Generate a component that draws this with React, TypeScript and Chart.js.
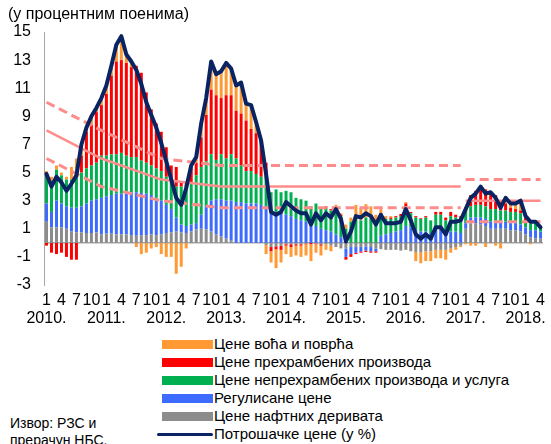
import React, { useEffect, useRef } from "react";
import { Chart, registerables } from "chart.js";

Chart.register(...registerables);

const FONT = "'Liberation Sans', Arial, Helvetica, sans-serif";

const years = [2010, 2011, 2012, 2013, 2014, 2015, 2016, 2017, 2018];
const labels: string[] = [];
for (const yr of years) {
  for (let m = 1; m <= 12; m++) {
    if (yr === 2018 && m > 4) break;
    labels.push(`${yr}-${m}`);
  }
}

// Потрошачке цене (у %)
const cpi = [
  4.9, 4.0, 4.7, 4.3, 3.7, 4.2, 4.8, 7.0, 8.2, 9.0, 9.6, 10.3,
  11.2, 12.6, 14.1, 14.7, 13.4, 12.9, 12.3, 11.3, 10.0, 9.1, 8.2, 7.1,
  5.8, 4.5, 3.2, 2.7, 3.9, 5.5, 6.1, 8.5, 10.3, 12.9, 12.0, 12.2,
  12.8, 12.4, 11.2, 11.4, 9.9, 9.8, 8.6, 7.3, 4.9, 2.2, 2.0, 2.2,
  2.9, 2.6, 2.3, 2.1, 2.1, 1.3, 2.1, 1.6, 2.1, 1.8, 2.4, 1.7,
  0.1, 0.8, 1.9, 1.8, 2.1, 1.9, 1.3, 2.0, 1.4, 1.4, 1.4, 1.5,
  2.4, 1.6, 0.6, 0.3, 0.6, 0.3, 1.1, 1.1, 0.6, 1.5, 1.5, 1.6,
  2.4, 3.2, 3.5, 4.0, 3.5, 3.6, 3.2, 2.5, 3.2, 2.8, 2.8, 3.0,
  1.9, 1.5, 1.5, 1.1,
];

// Цене нафтних деривата
const oil = [
  1.5, 1.1, 1.1, 1.1, 1.0, 0.8, 0.75, 0.75, 0.7, 0.7, 0.75, 0.6,
  0.65, 0.65, 0.6, 0.6, 0.6, 0.55, 0.5, 0.55, 0.55, 0.6, 0.55, 0.6,
  0.7, 0.75, 0.8, 0.75, 0.7, 0.8, 0.95, 1.0, 0.95, 0.8, 0.6, 0.45,
  0.3, 0.15, 0, 0, 0, 0, 0, 0, -0.15, -0.3, -0.25, -0.2,
  -0.1, -0.1, -0.1, -0.1, -0.05, 0, -0.05, -0.1, -0.1, -0.2, -0.3, -0.4,
  -0.4, -0.3, -0.3, -0.3, -0.25, -0.3, -0.4, -0.45, -0.5, -0.5, -0.5, -0.55,
  -0.5, -0.6, -0.65, -0.7, -0.6, -0.6, -0.5, -0.5, -0.5, -0.4, -0.3, -0.2,
  1.0, 1.4, 1.4, 1.3, 1.2, 1.0, 1.0, 1.0, 1.0, 0.9, 0.9, 0.8,
  0.6, 0.4, 0.3, 0.3,
];

// Регулисане цене
const regulated = [
  1.3, 1.1, 1.9, 1.7, 1.6, 1.7, 1.75, 1.85, 2.1, 2.3, 2.35, 2.6,
  2.65, 2.75, 2.9, 2.9, 3.0, 3.05, 3.1, 3.0, 2.95, 2.8, 2.65, 2.4,
  2.0, 1.65, 1.0, 0.55, 0.5, 0.5, 0.45, 1.0, 1.65, 2.2, 2.5, 2.65,
  2.7, 2.85, 2.9, 2.9, 2.8, 2.8, 2.8, 2.7, 2.6, 2.3, 2.2, 2.1,
  2.0, 1.9, 1.7, 1.6, 1.5, 1.3, 1.2, 1.0, 0.9, 0.8, 0.6, 0.4,
  -0.6, -0.5, -0.4, -0.3, -0.3, -0.3, -0.2, 0.5, 0.6, 0.7, 0.8, 0.9,
  1.2, 1.1, 0.9, 0.8, 0.8, 0.7, 1.0, 1.1, 0.8, 0.8, 0.8, 0.7,
  0.4, 0.4, 0.4, 0.5, 0.5, 0.5, 0.5, 0.5, 0.5, 0.5, 0.5, 0.5,
  0.5, 0.5, 0.6, 0.5,
];

// Цене непрехрамбених производа и услуга
const nonFood = [
  2.1, 2.2, 2.2, 2.0, 1.9, 2.0, 2.3, 2.4, 2.5, 2.5, 2.6, 3.0,
  2.9, 2.9, 2.8, 2.9, 2.6, 2.5, 2.5, 2.3, 2.2, 2.1, 2.1, 2.1,
  2.0, 1.9, 2.2, 2.7, 2.7, 3.0, 3.4, 3.4, 3.2, 3.3, 2.8, 3.2,
  3.0, 3.3, 3.1, 2.6, 2.3, 2.3, 2.1, 2.0, 2.2, 1.3, 1.6, 1.5,
  1.7, 1.7, 1.5, 1.5, 1.5, 1.3, 1.6, 1.5, 1.6, 1.5, 1.7, 1.5,
  1.0, 1.5, 1.8, 1.6, 1.8, 1.7, 1.4, 1.5, 1.1, 1.0, 1.0, 1.0,
  1.4, 1.0, 0.9, 0.9, 1.0, 0.9, 1.0, 0.9, 0.8, 1.1, 1.0, 1.0,
  0.8, 0.8, 0.9, 0.9, 0.9, 0.9, 0.9, 0.8, 0.8, 0.8, 0.8, 0.8,
  0.5, 0.5, 0.5, 0.3,
];

// Цене прехрамбених производа
const processedFood = [
  -0.2, -0.7, -0.8, -0.7, -1.0, -1.2, -1.2, 1.2, 2.6, 2.9, 3.6, 3.6,
  4.4, 5.6, 6.6, 6.6, 6.6, 6.4, 6.5, 6.25, 5.0, 4.0, 3.2, 2.8,
  2.1, 1.2, 1.4, 0.4, 0.4, 1.0, 0.9, 2.1, 3.3, 4.6, 4.6, 4.0,
  4.5, 4.2, 3.4, 3.7, 3.6, 3.0, 2.9, 2.6, 0.9, -0.3, -0.2, -0.3,
  -0.1, -0.2, -0.1, -0.1, -0.05, -0.1, -0.05, -0.1, 0.1, 0.1, 0.2, 0.1,
  -0.2, -0.2, -0.1, -0.1, -0.1, -0.1, -0.1, 0.1, 0.0, 0.1, 0.1, 0.15,
  0.2, 0.1, 0.1, 0.05, 0.1, 0.0, 0.2, 0.2, 0.2, 0.3, 0.2, 0.2,
  0.3, 0.8, 1.0, 1.3, 1.2, 1.1, 1.0, 0.6, 0.5, 0.3, 0.2, 0.2,
  0.2, 0.2, 0.1, 0.0,
];

// Цене воћа и поврћа
const fruitVeg = [
  0.2, 0.3, 0.3, 0.2, 0.2, 0.9, 1.2, 0.8, 0.3, 0.6, 0.3, 0.5,
  0.6, 0.7, 1.2, 1.7, 0.6, 0.4, -0.3, -0.8, -0.7, -0.4, -0.3, -0.8,
  -1.0, -1.0, -2.2, -1.7, -0.4, 0.2, 0.4, 1.0, 1.2, 2.0, 1.5, 1.9,
  2.3, 1.9, 1.8, 2.2, 1.2, 1.7, 0.8, 0.0, -0.65, -0.8, -1.35, -0.9,
  -0.6, -0.7, -0.7, -0.8, -0.8, -1.2, -0.6, -0.7, -0.4, -0.4, 0.2, 0.1,
  0.3, 0.3, 0.9, 0.9, 0.95, 0.9, 0.6, 0.35, 0.2, 0.1, 0.0, 0.0,
  0.1, 0.0, -0.65, -0.75, -0.7, -0.7, -0.6, -0.6, -0.7, -0.3, -0.2, -0.1,
  -0.1, -0.2, -0.2, 0.0, -0.3, 0.1, -0.2, -0.4, 0.4, 0.3, 0.4, 0.7,
  0.1, -0.1, 0.0, 0.0,
];

// Циљана инфлација и граница одступања (тачке промене)
const targetMid1 = [
  { x: "2010-1", y: 8 }, { x: "2010-12", y: 6 }, { x: "2011-12", y: 4.5 },
  { x: "2012-12", y: 4 }, { x: "2016-12", y: 4 },
];
const targetUpper1 = [
  { x: "2010-1", y: 10 }, { x: "2010-12", y: 8 }, { x: "2011-12", y: 6 },
  { x: "2012-12", y: 5.5 }, { x: "2016-12", y: 5.5 },
];
const targetLower1 = [
  { x: "2010-1", y: 6 }, { x: "2010-12", y: 4 }, { x: "2011-12", y: 3 },
  { x: "2012-12", y: 2.5 }, { x: "2016-12", y: 2.5 },
];
const targetMid2 = [{ x: "2017-1", y: 3 }, { x: "2018-4", y: 3 }];
const targetUpper2 = [{ x: "2017-1", y: 4.5 }, { x: "2018-4", y: 4.5 }];
const targetLower2 = [{ x: "2017-1", y: 1.5 }, { x: "2018-4", y: 1.5 }];

const C_ORANGE = "#FF9933";
const C_RED = "#FF0000";
const C_GREEN = "#00B050";
const C_BLUE = "#3D6BFF";
const C_GRAY = "#8C8C8C";
const C_NAVY = "#0A2463";
const C_TARGET = "#FF8C8C";

const legendItems = [
  { label: "Цене воћа и поврћа", color: C_ORANGE, line: false },
  { label: "Цене прехрамбених производа", color: C_RED, line: false },
  { label: "Цене непрехрамбених производа и услуга", color: C_GREEN, line: false },
  { label: "Регулисане цене", color: C_BLUE, line: false },
  { label: "Цене нафтних деривата", color: C_GRAY, line: false },
  { label: "Потрошачке цене (у %)", color: C_NAVY, line: true },
];

export default function App() {
  const ref = useRef<HTMLCanvasElement>(null);

  useEffect(() => {
    if (!ref.current) return;
    const zeroLine = {
      id: "zeroLine",
      beforeDatasetsDraw(chart: any) {
        const { ctx, chartArea, scales } = chart;
        const y = scales.y.getPixelForValue(0);
        ctx.save();
        ctx.strokeStyle = "#A6A6A6";
        ctx.lineWidth = 1.5;
        ctx.beginPath();
        ctx.moveTo(chartArea.left, y);
        ctx.lineTo(chartArea.right, y);
        ctx.stroke();
        ctx.restore();
      },
    };

    const targetLine = (data: any[], dashed: boolean, id: string) => ({
      type: "line" as const,
      data,
      stack: id,
      borderColor: C_TARGET,
      borderWidth: dashed ? 3 : 2.5,
      borderDash: dashed ? [9, 5] : [],
      pointRadius: 0,
      fill: false,
      tension: 0,
    });

    const bar = (data: number[], color: string) => ({
      type: "bar" as const,
      data,
      stack: "bars",
      backgroundColor: color,
      borderWidth: 0,
      barPercentage: 0.6,
      categoryPercentage: 1,
    });

    const chart = new Chart(ref.current, {
      type: "bar",
      data: {
        labels,
        datasets: [
          {
            type: "line",
            data: cpi,
            stack: "cpi",
            borderColor: C_NAVY,
            borderWidth: 4,
            borderJoinStyle: "round",
            borderCapStyle: "round",
            pointRadius: 0,
            fill: false,
            tension: 0,
          } as any,
          targetLine(targetUpper1, true, "u1"),
          targetLine(targetMid1, false, "m1"),
          targetLine(targetLower1, true, "l1"),
          targetLine(targetUpper2, true, "u2"),
          targetLine(targetMid2, false, "m2"),
          targetLine(targetLower2, true, "l2"),
          bar(oil, C_GRAY),
          bar(regulated, C_BLUE),
          bar(nonFood, C_GREEN),
          bar(processedFood, C_RED),
          bar(fruitVeg, C_ORANGE),
        ] as any,
      },
      options: {
        animation: false,
        responsive: false,
        maintainAspectRatio: false,
        layout: { padding: { left: 0, right: 3, top: 32, bottom: 0 } },
        plugins: { legend: { display: false }, tooltip: { enabled: false } },
        scales: {
          x: {
            stacked: true,
            offset: true,
            grid: { display: false, drawTicks: false },
            border: { display: false },
            ticks: {
              autoSkip: false,
              maxRotation: 0,
              minRotation: 0,
              padding: 6,
              color: "#000",
              font: { family: FONT, size: 16, lineHeight: 1.15 },
              callback: (_v: any, i: number) => {
                const [yy, mm] = labels[i].split("-");
                const m = Number(mm);
                if (m === 1) return [String(m), yy + "."];
                if (m % 3 === 1) return String(m);
                return null;
              },
            },
            afterFit: (s: any) => {
              s.height = 50;
            },
          },
          y: {
            stacked: true,
            min: -3,
            max: 15,
            ticks: {
              stepSize: 2,
              padding: 13,
              color: "#000",
              font: { family: FONT, size: 16 },
            },
            grid: { display: false, drawTicks: false },
            border: { display: true, color: "#A6A6A6", width: 1 },
            afterFit: (s: any) => {
              s.width = 44;
            },
          },
        },
      } as any,
      plugins: [zeroLine],
    });
    return () => chart.destroy();
  }, []);

  return (
    <div
      style={{
        position: "fixed",
        left: 0,
        top: 0,
        width: 551,
        height: 444,
        overflow: "hidden",
        background: "#fff",
        fontFamily: FONT,
        color: "#000",
      }}
    >
      <canvas
        ref={ref}
        width={551}
        height={335}
        style={{ position: "absolute", left: 0, top: 0, width: 551, height: 335 }}
      />
      <div
        style={{
          position: "absolute",
          left: 8,
          top: 5,
          fontSize: 16,
          lineHeight: "18px",
          whiteSpace: "nowrap",
        }}
      >
        (у процентним поенима)
      </div>
      <div style={{ position: "absolute", left: 157, top: 335 }}>
        {legendItems.map((it) => (
          <div
            key={it.label}
            style={{ display: "flex", alignItems: "center", height: 18, whiteSpace: "nowrap" }}
          >
            <div style={{ width: 56, height: 18, position: "relative", flex: "none" }}>
              {it.line ? (
                <div
                  style={{
                    position: "absolute",
                    left: 0,
                    top: 8,
                    width: 56,
                    height: 3,
                    borderRadius: 2,
                    background: it.color,
                  }}
                />
              ) : (
                <div
                  style={{
                    position: "absolute",
                    left: 5,
                    top: 5,
                    width: 51,
                    height: 9,
                    background: it.color,
                  }}
                />
              )}
            </div>
            <span style={{ fontSize: 15, lineHeight: "18px", marginLeft: 1 }}>{it.label}</span>
          </div>
        ))}
      </div>
      <div
        style={{
          position: "absolute",
          left: 10,
          top: 415,
          fontSize: 14,
          lineHeight: "17px",
          whiteSpace: "nowrap",
        }}
      >
        Извор: РЗС и
        <br />
        прерачун НБС.
      </div>
    </div>
  );
}
